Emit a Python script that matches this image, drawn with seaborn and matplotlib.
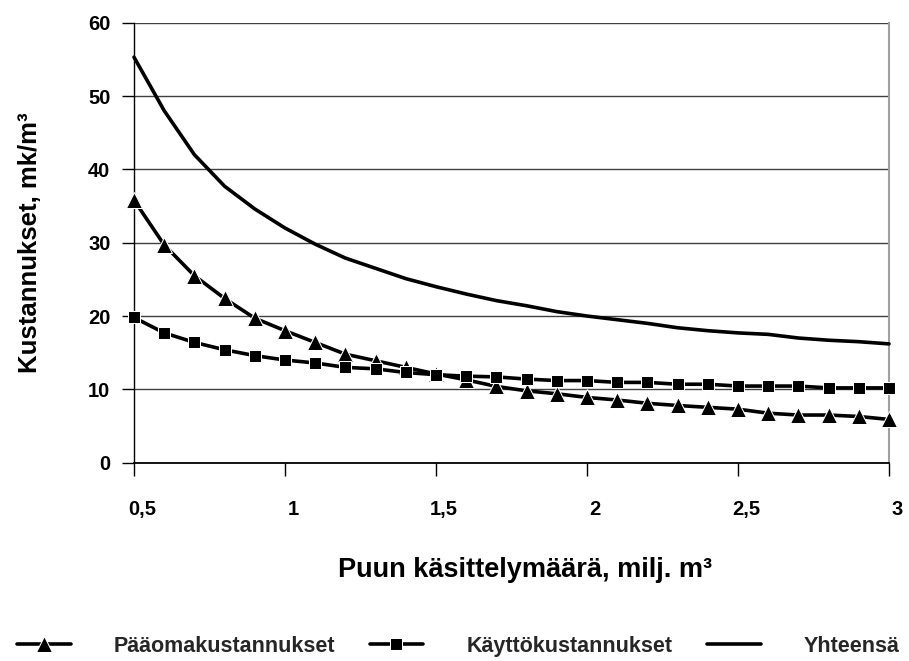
import numpy as np
import pandas as pd
import seaborn as sns
import matplotlib
matplotlib.use("Agg")
import matplotlib.pyplot as plt
from matplotlib.transforms import ScaledTranslation

# ---- data ----
x_values = [0.5, 0.6, 0.7, 0.8, 0.9, 1.0, 1.1, 1.2, 1.3, 1.4, 1.5, 1.6, 1.7,
            1.8, 1.9, 2.0, 2.1, 2.2, 2.3, 2.4, 2.5, 2.6, 2.7, 2.8, 2.9, 3.0]
paaoma = [35.8, 29.7, 25.5, 22.4, 19.7, 18.0, 16.4, 14.8, 13.9, 13.0, 12.1, 11.3, 10.4,
          9.8, 9.4, 8.9, 8.55, 8.1, 7.8, 7.55, 7.3, 6.75, 6.5, 6.5, 6.3, 5.9]
kaytto = [19.8, 17.7, 16.4, 15.4, 14.6, 14.0, 13.6, 13.0, 12.8, 12.3, 12.0, 11.8, 11.7,
          11.4, 11.2, 11.2, 10.95, 10.95, 10.7, 10.7, 10.45, 10.45, 10.45, 10.2, 10.2, 10.2]
yhteensa = [55.3, 48.0, 42.0, 37.7, 34.6, 32.0, 29.8, 27.9, 26.5, 25.1, 24.0, 23.0, 22.1,
            21.4, 20.6, 20.0, 19.5, 19.0, 18.4, 18.0, 17.7, 17.5, 17.0, 16.7, 16.5, 16.2]
series_names = ["Pääomakustannukset", "Käyttökustannukset", "Yhteensä"]
x_tick_values = [0.5, 1.0, 1.5, 2.0, 2.5, 3.0]
x_tick_labels = ["0,5", "1", "1,5", "2", "2,5", "3"]
y_tick_values = [0, 10, 20, 30, 40, 50, 60]
x_label = "Puun käsittelymäärä, milj. m³"
y_label = "Kustannukset, mk/m³"

sns.set_theme(style="white")
plt.rcParams['font.family'] = ['Liberation Sans', 'DejaVu Sans']
plt.rcParams['font.weight'] = 'bold'
plt.rcParams['axes.labelweight'] = 'bold'

fig = plt.figure(figsize=(9.09, 6.61), dpi=100)
ax = fig.add_axes([0.1474, 0.3000, 0.8306, 0.6657])

markers = ['^', 's', None]
msizes = [11, 9, 0]
for name, vals, m, ms in zip(series_names, [paaoma, kaytto, yhteensa], markers, msizes):
    kw = dict(marker=m, markersize=ms) if m else {}
    sns.lineplot(x=x_values, y=vals, ax=ax, color='black', linewidth=2.6,
                 label=name, clip_on=False, zorder=5, **kw)

ax.set_xlim(0.5, 3.0)
ax.set_ylim(0, 60)
ax.set_xticks(x_tick_values)
ax.set_xticklabels(x_tick_labels)
ax.set_yticks(y_tick_values)
ax.tick_params(axis='both', direction='out', length=9, width=1, color='black',
               labelsize=14.5, labelcolor='black', bottom=True, left=True)
ax.tick_params(axis='x', pad=18)
ax.tick_params(axis='y', pad=8)
for lab in ax.get_xticklabels():
    lab.set_transform(lab.get_transform() + ScaledTranslation(0.08, 0, fig.dpi_scale_trans))

ax.yaxis.grid(True, color='#404040', linewidth=1)
ax.xaxis.grid(False)
ax.spines['top'].set_visible(False)
ax.spines['left'].set_color('black')
ax.spines['left'].set_linewidth(1)
ax.spines['bottom'].set_color('black')
ax.spines['bottom'].set_linewidth(1.3)
ax.spines['right'].set_color('#a0a0a0')
ax.spines['right'].set_linewidth(1.5)

ax.set_xlabel(x_label, fontsize=19.5, color='black')
ax.set_ylabel(y_label, fontsize=18.5, color='black')
ax.xaxis.set_label_coords(0.5185, -0.2439)
ax.xaxis.label.set_va('center')
ax.yaxis.set_label_coords(-0.1377, 0.5)
ax.yaxis.label.set_va('center')

handles, labels = ax.get_legend_handles_labels()
ax.legend(handles, labels, loc='center', bbox_to_anchor=(0.504, 0.022),
          bbox_transform=fig.transFigure, ncol=3, frameon=False,
          prop={'size': 15.5, 'weight': 'bold'}, handlelength=2.5,
          handletextpad=2.0, columnspacing=1.6, borderpad=0.1, borderaxespad=0.1)

fig.savefig("out.png", dpi=100)
